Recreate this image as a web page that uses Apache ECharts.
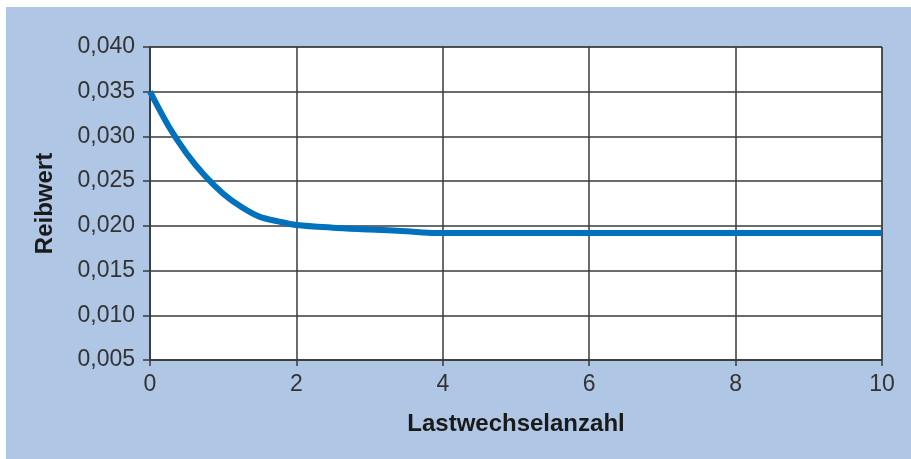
<!DOCTYPE html>
<html><head><meta charset="utf-8">
<script src="https://cdn.jsdelivr.net/npm/echarts@6/dist/echarts.min.js"></script>
<style>html,body{margin:0;padding:0;background:#fff}#c{width:911px;height:459px}</style>
</head><body><div id="c"></div>
<script>
const xValues = [0, 0.25, 0.5, 0.75, 1.0, 1.25, 1.5, 1.75, 2.0, 2.5, 3.0, 3.5, 3.9, 4, 5, 6, 7, 8, 9, 10];
const reibwert = [0.0350, 0.0312, 0.0281, 0.0256, 0.0236, 0.0221, 0.0210, 0.0205, 0.0201, 0.0198, 0.0196, 0.0194, 0.0192, 0.0192, 0.0192, 0.0192, 0.0192, 0.0192, 0.0192, 0.0192];
const xTicks = [0, 2, 4, 6, 8, 10];
const yTicks = [0.005, 0.010, 0.015, 0.020, 0.025, 0.030, 0.035, 0.040];
const xTitle = 'Lastwechselanzahl';
const yTitle = 'Reibwert';

const chart = echarts.init(document.getElementById('c'), null, {renderer: 'canvas'});
const font = 'Liberation Sans, Arial, Helvetica, sans-serif';
const gridColor = '#3a3a3a';
chart.setOption({
  animation: false,
  graphic: [{type: 'rect', left: 6, top: 7, shape: {width: 905, height: 452}, style: {fill: '#afc6e5'}, z: -10}],
  grid: {left: 150, top: 47, width: 732, height: 313, show: true, backgroundColor: '#ffffff', borderColor: gridColor, borderWidth: 1},
  xAxis: {
    type: 'value', min: xTicks[0], max: xTicks[xTicks.length - 1], interval: 2,
    name: xTitle, nameLocation: 'middle', nameGap: 52,
    nameTextStyle: {fontFamily: font, fontWeight: 'bold', fontSize: 24, color: '#1a1a1a'},
    axisLine: {show: true, lineStyle: {color: gridColor, width: 1.5}},
    axisTick: {show: true, inside: false, length: 6, lineStyle: {color: gridColor, width: 1.5}},
    axisLabel: {fontFamily: font, fontSize: 23, color: '#333', margin: 13, formatter: v => String(v)},
    splitLine: {show: true, lineStyle: {color: gridColor, width: 1.5}}
  },
  yAxis: {
    type: 'value', min: yTicks[0], max: yTicks[yTicks.length - 1], interval: 0.005,
    name: yTitle, nameLocation: 'middle', nameGap: 93, nameRotate: 90,
    nameTextStyle: {fontFamily: font, fontWeight: 'bold', fontSize: 24, color: '#1a1a1a'},
    axisLine: {show: true, lineStyle: {color: gridColor, width: 1.5}},
    axisTick: {show: true, inside: false, length: 7, lineStyle: {color: gridColor, width: 1.5}},
    axisLabel: {fontFamily: font, fontSize: 23, color: '#333', margin: 15, formatter: v => v.toFixed(3).replace('.', ',')},
    splitLine: {show: true, lineStyle: {color: gridColor, width: 1.5}}
  },
  series: [{
    type: 'line', data: xValues.map((x, i) => [x, reibwert[i]]),
    smooth: 0.3, showSymbol: false, symbol: 'none',
    lineStyle: {color: '#0071bc', width: 6}
  }]
});
</script></body></html>
